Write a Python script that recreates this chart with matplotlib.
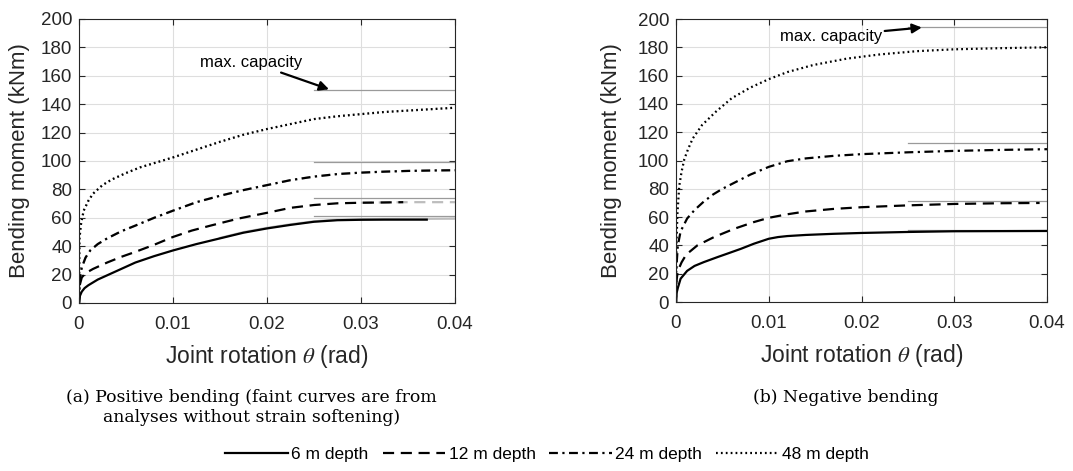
import matplotlib
matplotlib.use("Agg")
from matplotlib import pyplot as plt

plt.rcParams['font.family'] = ['Liberation Sans', 'DejaVu Sans']
plt.rcParams['mathtext.fontset'] = 'stix'

# ---- (a) positive bending ----
pos_x6 = [0, 0.0001, 0.0003, 0.0006, 0.001, 0.002, 0.003, 0.0045, 0.006, 0.008, 0.01, 0.0125,
          0.015, 0.0175, 0.02, 0.0225, 0.025, 0.0275, 0.03, 0.0325, 0.035, 0.037]
pos_y6 = [0, 5, 8, 10.5, 12.5, 16.5, 19.5, 24, 28.5, 33, 37, 41.5,
          45.5, 49.5, 52.5, 55, 57.2, 58.3, 58.6, 58.7, 58.7, 58.7]
pos_x12 = [0, 0.0001, 0.0003, 0.0007, 0.0015, 0.003, 0.0045, 0.006, 0.008, 0.01, 0.012,
           0.014, 0.017, 0.02, 0.0225, 0.025, 0.0275, 0.03, 0.0325, 0.0345]
pos_y12 = [0, 13, 18, 21, 24, 28.5, 32.5, 36, 41, 46.5, 51,
           54.5, 59.5, 63.5, 67, 69, 70.2, 70.6, 70.8, 71]
pos_x24 = [0, 0.0001, 0.0003, 0.0007, 0.0012, 0.002, 0.003, 0.0045, 0.006, 0.008, 0.01, 0.0125,
           0.015, 0.0175, 0.02, 0.0225, 0.025, 0.0275, 0.03, 0.0325, 0.035, 0.0375, 0.04]
pos_y24 = [0, 18, 25, 32, 37, 41.5, 45.5, 50.5, 54.5, 60, 65, 71,
           75.5, 79.5, 83, 86.5, 89, 90.8, 91.8, 92.5, 93, 93.3, 93.5]
pos_x48 = [0, 0.00005, 0.0002, 0.0005, 0.001, 0.0015, 0.0025, 0.0035, 0.005, 0.0065, 0.008, 0.01,
           0.0125, 0.015, 0.0175, 0.02, 0.0225, 0.025, 0.0275, 0.03, 0.0325, 0.035, 0.0375, 0.04]
pos_y48 = [0, 45, 55, 65, 72, 77, 83, 87, 91.5, 95.5, 98.5, 102.5,
           108, 113.5, 118.5, 122.5, 126, 129.5, 131.5, 133, 134.5, 135.5, 136.5, 137.5]
# faint curves (no strain softening), only the parts that differ
faint_x6 = [0.015, 0.0175, 0.02, 0.0225, 0.025, 0.0275, 0.03, 0.035, 0.04]
faint_y6 = [45.8, 49.9, 52.9, 55.4, 57.5, 58.6, 59.0, 59.2, 59.4]
faint_x12 = [0.03, 0.0325, 0.035, 0.0375, 0.04]
faint_y12 = [70.6, 70.8, 71, 71, 71]
pos_cap = [61.5, 73.7, 99, 149.8]

# ---- (b) negative bending ----
neg_x6 = [0, 0.00005, 0.0002, 0.0005, 0.0012, 0.002, 0.003, 0.0045, 0.0055, 0.007, 0.0084,
          0.01, 0.011, 0.012, 0.014, 0.017, 0.02, 0.025, 0.03, 0.035, 0.04]
neg_y6 = [0, 6, 10, 16.5, 22, 25.5, 28.2, 31.8, 34.1, 37.6, 41.2,
          44.7, 45.9, 46.6, 47.4, 48.2, 48.8, 49.5, 50, 50.1, 50.2]
neg_x12 = [0, 0.00005, 0.0002, 0.0006, 0.0011, 0.0023, 0.0041, 0.0063, 0.0084, 0.01, 0.012,
           0.014, 0.017, 0.02, 0.025, 0.03, 0.035, 0.0392]
neg_y12 = [0, 15, 22, 28, 33.5, 40, 45.9, 51.8, 56.5, 59.5, 62,
           64, 65.8, 67, 68.3, 69.3, 69.8, 70]
neg_x24 = [0, 0.00005, 0.0002, 0.0005, 0.0012, 0.002, 0.003, 0.004, 0.005, 0.0065, 0.008,
           0.01, 0.012, 0.014, 0.017, 0.02, 0.025, 0.03, 0.035, 0.04]
neg_y24 = [0, 25, 40, 50, 59, 65, 71, 76, 80, 85, 90,
           95.5, 99.5, 101.5, 103.3, 104.5, 105.8, 106.8, 107.5, 108]
neg_x48 = [0, 0.00005, 0.00015, 0.00035, 0.0006, 0.0009, 0.0013, 0.0018, 0.0028, 0.0043, 0.006,
           0.008, 0.01, 0.012, 0.0148, 0.0184, 0.022, 0.026, 0.03, 0.035, 0.04]
neg_y48 = [0, 40, 62, 82, 92, 101, 108, 115.5, 125, 134.5, 144,
           151.5, 157.5, 162.5, 167.5, 172, 175, 177.3, 178.6, 179.4, 180]
neg_cap = [51, 71.2, 112.4, 194.6]

labels = ["6 m depth", "12 m depth", "24 m depth", "48 m depth"]
styles = [dict(ls='-'), dict(ls=(0, (5, 3))), dict(ls=(0, (4, 2, 1, 2))), dict(ls=(0, (0.8, 1.4)))]
dark = '#262626'
faint = '#bdbdbd'

fig = plt.figure(figsize=(10.73, 4.71), dpi=100)
ax1 = fig.add_axes([0.0736, 0.3567, 0.3504, 0.6030])
ax2 = fig.add_axes([0.6300, 0.3588, 0.3458, 0.6008])

# faint curves first on (a)
for xs, ys, st in [(pos_x24, pos_y24, styles[2]), (pos_x48, pos_y48, styles[3]),
                   (faint_x6, faint_y6, styles[0]), (faint_x12, faint_y12, styles[1])]:
    ax1.plot(xs, ys, color=faint, lw=1.6, **st)

for ax, caps in [(ax1, pos_cap), (ax2, neg_cap)]:
    for c in caps:
        ax.plot([0.025, 0.04], [c, c], color='#9a9a9a', lw=0.9)

handles = []
for xs, ys, st, lab in zip([pos_x6, pos_x12, pos_x24, pos_x48], [pos_y6, pos_y12, pos_y24, pos_y48],
                           styles, labels):
    h, = ax1.plot(xs, ys, color='k', lw=1.6, label=lab, **st)
    handles.append(h)
for xs, ys, st in zip([neg_x6, neg_x12, neg_x24, neg_x48], [neg_y6, neg_y12, neg_y24, neg_y48], styles):
    ax2.plot(xs, ys, color='k', lw=1.6, **st)

ax1.annotate("max. capacity", xy=(0.0266, 150.5), xytext=(0.0238, 169.5),
             ha='right', va='center', fontsize=12,
             arrowprops=dict(arrowstyle='-|>', color='k', lw=1.6, mutation_scale=14,
                             shrinkA=0, shrinkB=0))
ax2.annotate("max. capacity", xy=(0.0265, 194), xytext=(0.0222, 188),
             ha='right', va='center', fontsize=12,
             arrowprops=dict(arrowstyle='-|>', color='k', lw=1.6, mutation_scale=14,
                             shrinkA=0, shrinkB=0))

for ax, lx in [(ax1, -0.13), (ax2, -0.146)]:
    ax.set_xlim(0, 0.04)
    ax.set_ylim(0, 200)
    ax.set_xticks([0, 0.01, 0.02, 0.03, 0.04])
    ax.set_xticklabels(["0", "0.01", "0.02", "0.03", "0.04"])
    ax.set_yticks(range(0, 201, 20))
    ax.grid(True, color='#dedede', lw=0.8)
    ax.set_axisbelow(True)
    ax.tick_params(direction='in', top=True, right=True, length=4, width=0.8,
                   labelsize=13.5, colors=dark, labelcolor=dark)
    ax.tick_params(axis='x', pad=9.5)
    ax.tick_params(axis='y', pad=5)
    for s in ax.spines.values():
        s.set_color(dark)
        s.set_linewidth(0.8)
    ax.set_ylabel("Bending moment (kNm)", fontsize=16, color=dark)
    ax.yaxis.set_label_coords(lx, 0.5)
    ax.set_xlabel(r"Joint rotation $\theta$ (rad)", fontsize=16.5, color=dark)
    ax.xaxis.set_label_coords(0.5, -0.141)

fig.text(0.2344, 1 - 389 / 471, "(a) Positive bending (faint curves are from\nanalyses without strain softening)",
         family='DejaVu Serif', fontsize=12.4, ha='center', va='top', linespacing=1.2)
fig.text(0.788, 1 - 398 / 471, "(b) Negative bending", family='DejaVu Serif', fontsize=12.4,
         ha='center', va='center')

fig.legend(handles=handles, loc='center', bbox_to_anchor=(0.51, 0.036), ncol=4, frameon=False,
           handlelength=3.6, handletextpad=0.2, columnspacing=0.8,
           prop={'family': ['Liberation Sans Narrow', 'Liberation Sans'], 'size': 12.5})

fig.savefig("out.png", dpi=100)
